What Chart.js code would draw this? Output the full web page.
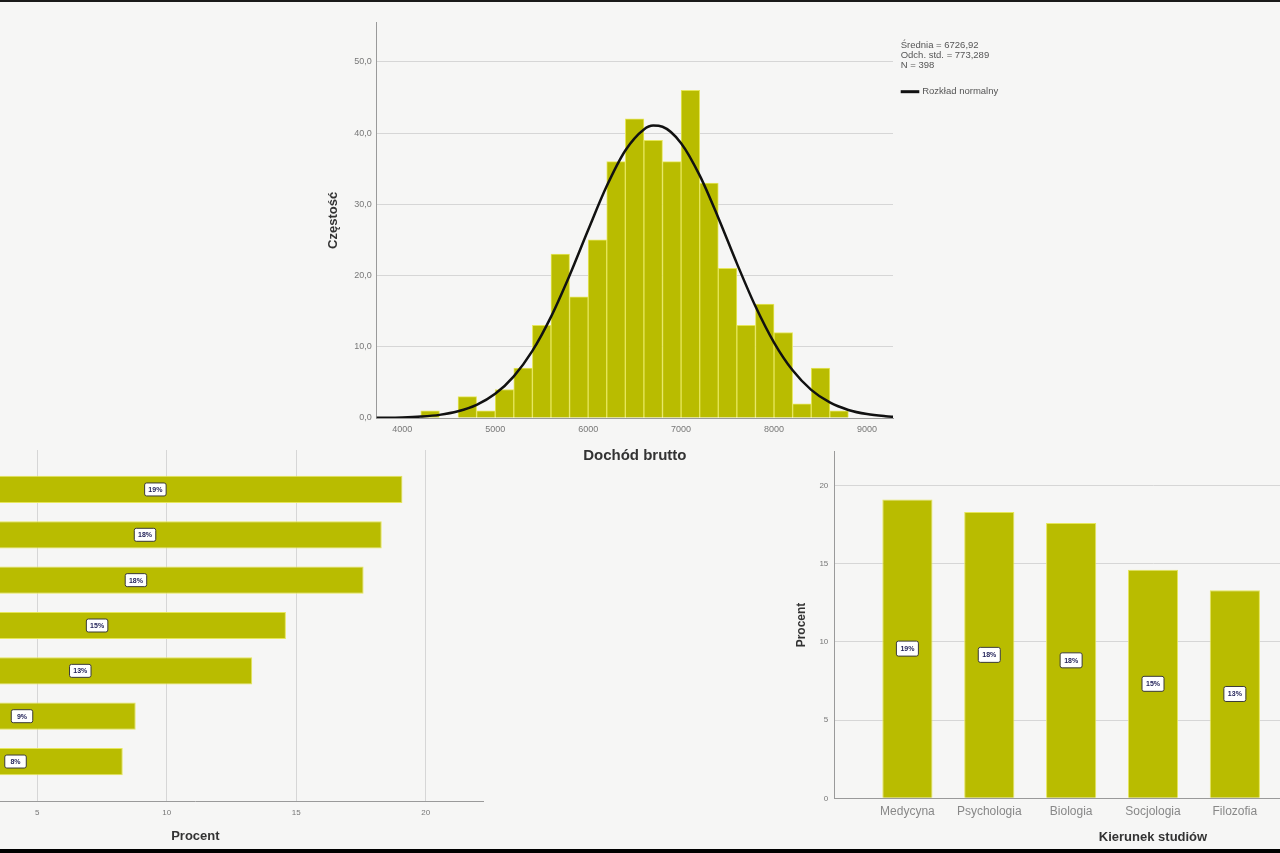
<!DOCTYPE html>
<html>
<head>
<meta charset="utf-8">
<script src="https://cdn.jsdelivr.net/npm/chart.js@4/dist/chart.umd.min.js"></script>
<style>
html,body{margin:0;padding:0;}
body{width:1280px;height:853px;overflow:hidden;position:relative;background:#f6f6f5;font-family:"Liberation Sans",Arial,sans-serif;}
canvas{position:absolute;}
#topline{position:absolute;left:0;top:0;width:1280px;height:2px;background:#1a1a1a;}
#bottomline{position:absolute;left:0;top:849px;width:1280px;height:4px;background:#000;}
</style>
</head>
<body>
<canvas id="hist" width="720" height="480" style="left:300px;top:0px"></canvas>
<canvas id="hbar" width="700" height="423" style="left:-200px;top:430px"></canvas>
<canvas id="vbar" width="720" height="423" style="left:760px;top:430px"></canvas>
<div id="topline"></div>
<div id="bottomline"></div>
<script>
// ---- Histogram data (Dochód brutto) ----
const histBinCenters = [4300,4500,4700,4900,5100,5300,5500,5700,5900,6100,6300,6500,6700,6900,7100,7300,7500,7700,7900,8100,8300,8500,8700];
const histCounts     = [1,0,3,1,4,7,13,23,17,25,36,42,39,36,46,33,21,13,16,12,2,7,1];
const normalX = [3700,3800,4000,4200,4400,4600,4800,5000,5200,5400,5600,5800,6000,6200,6400,6600,6700,6800,7000,7200,7400,7600,7800,8000,8200,8400,8600,8800,9000,9200,9300];
const normalY = [0.02,0.03,0.08,0.20,0.44,0.94,1.84,3.39,5.85,9.42,14.20,20.02,26.40,32.56,37.56,40.52,41.05,40.89,38.59,34.06,28.12,21.71,15.68,10.59,6.69,3.95,2.18,1.13,0.55,0.25,0.16];
const histXTicks = [4000,5000,6000,7000,8000,9000];
const histYTicks = [0,10,20,30,40,50];
const statLines = ['Średnia = 6726,92','Odch. std. = 773,289','N = 398'];
const normalLabel = 'Rozkład normalny';

// ---- Kierunek studiów data ----
const fields = ['Medycyna','Psychologia','Biologia','Socjologia','Filozofia','',''];
const fieldPercent = [19.1,18.3,17.6,14.6,13.3,8.8,8.3];
const fieldPercentLabels = ['19%','18%','18%','15%','13%','9%','8%'];
const percentTicks = [0,5,10,15,20];

const FF = '"Liberation Sans", Arial, sans-serif';
const BAR = '#b9bc00';
const BAR_EDGE = '#e6e65a';
const GRID = '#d6d6d6';
const AXIS = '#9a9a9a';
const TICK = '#777';

const statsPlugin = {
  id: 'stats',
  afterDraw(chart) {
    const ctx = chart.ctx, a = chart.chartArea;
    ctx.save();
    ctx.font = '9.5px ' + FF;
    ctx.fillStyle = '#555';
    ctx.textAlign = 'left';
    ctx.textBaseline = 'middle';
    const x0 = a.right + 7.7;
    statLines.forEach((t, i) => ctx.fillText(t, x0, a.top + 22.3 + i * 10));
    const ly = a.top + 69;
    ctx.strokeStyle = '#111';
    ctx.lineWidth = 3;
    ctx.beginPath(); ctx.moveTo(x0, ly); ctx.lineTo(x0 + 18.6, ly); ctx.stroke();
    ctx.fillText(normalLabel, x0 + 21.5, ly);
    ctx.restore();
  }
};

function labelPlugin(labels, w, h) {
  return {
    id: 'barLabels',
    afterDatasetsDraw(chart) {
      const ctx = chart.ctx;
      const meta = chart.getDatasetMeta(0);
      const horiz = chart.options.indexAxis === 'y';
      ctx.save();
      ctx.font = 'bold 7px ' + FF;
      ctx.textAlign = 'center';
      ctx.textBaseline = 'middle';
      meta.data.forEach((el, i) => {
        const cx = horiz ? (el.x + el.base) / 2 : el.x;
        const cy = horiz ? el.y : (el.y + el.base) / 2;
        ctx.fillStyle = '#ffffff';
        ctx.strokeStyle = '#3a3a3a';
        ctx.lineWidth = 1;
        ctx.beginPath();
        ctx.roundRect(cx - w / 2, cy - h / 2, w, h, 2);
        ctx.fill(); ctx.stroke();
        ctx.fillStyle = '#1e1e55';
        ctx.fillText(labels[i], cx, cy + 0.5);
      });
      ctx.restore();
    }
  };
}

const common = {
  responsive: false,
  animation: false,
  events: [],
  plugins: { legend: { display: false }, tooltip: { enabled: false } }
};

// ---- Histogram ----
new Chart(document.getElementById('hist'), {
  type: 'bar',
  data: {
    datasets: [
      { type: 'bar', data: histBinCenters.map((x, i) => ({ x: x, y: histCounts[i] })),
        backgroundColor: BAR, borderColor: BAR_EDGE, borderWidth: 1,
        barPercentage: 1, categoryPercentage: 1, order: 1 },
      { type: 'line', data: normalX.map((x, i) => ({ x: x, y: normalY[i] })),
        borderColor: '#111', borderWidth: 2.5, pointRadius: 0, fill: false,
        cubicInterpolationMode: 'monotone', order: 0 }
    ]
  },
  options: Object.assign({}, common, {
    layout: { padding: { left: 0, top: 22.7, right: 127, bottom: 0 } },
    scales: {
      x: { type: 'linear', min: 3725, max: 9280, bounds: 'data', offset: false,
           grid: { display: false, drawTicks: false, offset: false },
           border: { color: AXIS, width: 1 },
           afterBuildTicks: s => { s.ticks = histXTicks.map(v => ({ value: v })); },
           afterFit: s => { s.height = 62; },
           ticks: { callback: v => String(v), font: { family: FF, size: 9 }, color: TICK, padding: 6, maxRotation: 0, autoSkip: false },
           title: { display: true, text: 'Dochód brutto', font: { family: FF, size: 15, weight: 'bold' }, color: '#333', padding: { top: 0, bottom: 15 } } },
      y: { type: 'linear', min: 0, max: 55.5, bounds: 'data',
           grid: { color: GRID, drawTicks: false },
           border: { color: AXIS, width: 1 },
           afterBuildTicks: s => { s.ticks = histYTicks.map(v => ({ value: v })); },
           afterFit: s => { s.width = 76.7; },
           ticks: { callback: v => v.toFixed(1).replace('.', ','), font: { family: FF, size: 9 }, color: TICK, padding: 5 },
           title: { display: true, text: 'Częstość', font: { family: FF, size: 13, weight: 'bold' }, color: '#333', padding: { top: 25.2, bottom: 0 } } }
    }
  }),
  plugins: [statsPlugin]
});

// ---- Horizontal bars (left) ----
new Chart(document.getElementById('hbar'), {
  type: 'bar',
  data: {
    datasets: [{ data: fieldPercent.map((v, i) => ({ x: v, y: i })),
      backgroundColor: BAR, borderColor: BAR_EDGE, borderWidth: 1,
      barPercentage: 0.6, categoryPercentage: 1 }]
  },
  options: Object.assign({}, common, {
    indexAxis: 'y',
    layout: { padding: { left: 107.8, top: 20, right: 17, bottom: 0 } },
    scales: {
      x: { type: 'linear', min: 0, max: 22.21, bounds: 'data',
           grid: { color: GRID, drawTicks: false },
           border: { color: AXIS, width: 1 },
           afterBuildTicks: s => { s.ticks = percentTicks.map(v => ({ value: v })); },
           afterFit: s => { s.height = 52; },
           ticks: { callback: v => String(v), font: { family: FF, size: 8 }, color: TICK, padding: 7, maxRotation: 0, autoSkip: false },
           title: { display: true, text: 'Procent', font: { family: FF, size: 13, weight: 'bold' }, color: '#333', padding: { top: 0, bottom: 9.2 } } },
      y: { type: 'linear', min: -0.87, max: 6.87, reverse: true, bounds: 'data', offset: false, display: false,
           afterBuildTicks: s => { s.ticks = fields.map((_, i) => ({ value: i })); } }
    }
  }),
  plugins: [labelPlugin(fieldPercentLabels, 21.5, 13)]
});

// ---- Vertical bars (right) ----
new Chart(document.getElementById('vbar'), {
  type: 'bar',
  data: {
    datasets: [{ data: fieldPercent.map((v, i) => ({ x: i, y: v })),
      backgroundColor: BAR, borderColor: BAR_EDGE, borderWidth: 1,
      barPercentage: 0.613, categoryPercentage: 1 }]
  },
  options: Object.assign({}, common, {
    layout: { padding: { left: 0, top: 21.7, right: 8.3, bottom: 0 } },
    scales: {
      x: { type: 'linear', min: -0.893, max: 6.893, bounds: 'data', offset: false,
           grid: { display: false, drawTicks: false, offset: false },
           border: { color: AXIS, width: 1 },
           afterBuildTicks: s => { s.ticks = fields.map((_, i) => ({ value: i })); },
           afterFit: s => { s.height = 54.7; },
           ticks: { callback: v => fields[v] || '', font: { family: FF, size: 12 }, color: '#888', padding: 6, maxRotation: 0, autoSkip: false },
           title: { display: true, text: 'Kierunek studiów', font: { family: FF, size: 13, weight: 'bold' }, color: '#333', padding: { top: 0, bottom: 7.9 } } },
      y: { type: 'linear', min: 0, max: 22.15, bounds: 'data',
           grid: { color: GRID, drawTicks: false },
           border: { color: AXIS, width: 1 },
           afterBuildTicks: s => { s.ticks = percentTicks.map(v => ({ value: v })); },
           afterFit: s => { s.width = 74.3; },
           ticks: { callback: v => String(v), font: { family: FF, size: 8 }, color: TICK, padding: 6 },
           title: { display: true, text: 'Procent', font: { family: FF, size: 12, weight: 'bold' }, color: '#333', padding: { top: 34.5, bottom: 0 } } }
    }
  }),
  plugins: [labelPlugin(fieldPercentLabels, 22, 15)]
});
</script>
</body>
</html>
